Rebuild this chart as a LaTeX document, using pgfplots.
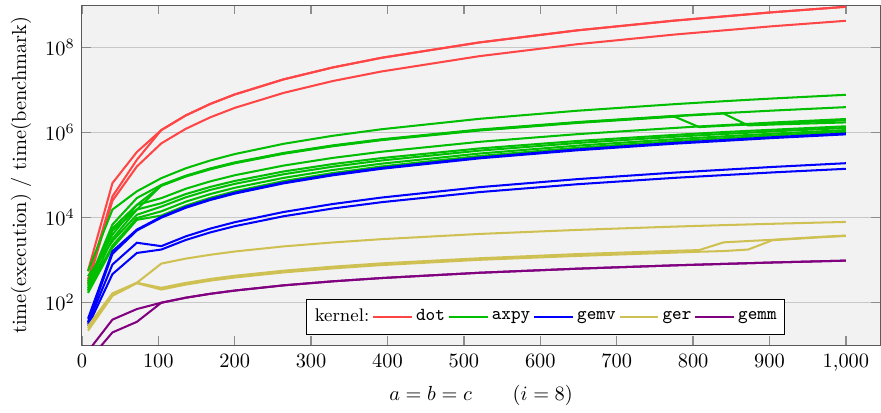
\documentclass[border=0pt]{standalone}
\usepackage{pgfplots}
\usepackage{pgfplotstable}
\pgfplotsset{compat=1.18}

\definecolor{dotc}{HTML}{FF4545}
\definecolor{axpyc}{HTML}{00BE00}
\definecolor{gemvc}{HTML}{0000FF}
\definecolor{gerc}{HTML}{CFC052}
\definecolor{gemmc}{HTML}{800080}
\definecolor{bgc}{HTML}{F2F2F2}
\definecolor{gridc}{HTML}{C8C8C8}
\definecolor{framec}{HTML}{5A5A5A}
\definecolor{tickc}{HTML}{8C8C8C}

% time(execution)/time(benchmark), one column per run
\pgfplotstableread{
x     r1      r1b     r2
8     560     350     280
40    6.5e4   3.16e4  2.5e4
72    3.5e5   2.3e5   1.6e5
104   1.15e6  1.15e6  5.6e5
136   2.54e6  2.54e6  1.23e6
168   4.73e6  4.73e6  2.29e6
200   7.9e6   7.9e6   3.82e6
264   1.79e7  1.79e7  8.6e6
328   3.40e7  3.40e7  1.63e7
392   5.75e7  5.75e7  2.74e7
520   1.32e8  1.32e8  6.28e7
648   2.54e8  2.54e8  1.20e8
776   4.32e8  4.32e8  2.03e8
904   6.78e8  6.78e8  3.18e8
1000  9.12e8  9.12e8  4.27e8
}\dotdata

\pgfplotstableread{
x     g1      g2      g3      g4      g5      g6      g7      g8      g9
8     550     280     250     220     320     200     420     190     170
40    1.55e4  6.9e3   5.6e3   5.0e3   4.0e3   3.2e3   2.8e3   2.2e3   1.95e3
72    4.17e4  2.9e4   2.0e4   1.55e4  2.0e4   1.55e4  1.17e4  9.8e3   8.9e3
104   8.51e4  5.9e4   5.6e4   5.75e4  2.88e4  2.19e4  1.82e4  1.41e4  1.12e4
136   1.45e5  9.70e4  9.27e4  9.48e4  4.79e4  3.59e4  3.01e4  2.38e4  1.92e4
168   2.21e5  1.44e5  1.37e5  1.41e5  7.14e4  5.29e4  4.49e4  3.59e4  2.93e4
200   3.13e5  1.99e5  1.90e5  1.95e5  9.94e4  7.29e4  6.23e4  5.04e4  4.16e4
264   5.46e5  3.33e5  3.18e5  3.26e5  1.68e5  1.22e5  1.05e5  8.63e4  7.26e4
328   8.41e5  5.00e5  4.78e5  4.89e5  2.54e5  1.82e5  1.58e5  1.32e5  1.12e5
392   1.20e6  6.97e5  6.65e5  6.81e5  3.55e5  2.52e5  2.21e5  1.86e5  1.60e5
520   2.11e6  1.18e6  1.12e6  1.15e6  6.07e5  4.24e5  3.77e5  3.22e5  2.82e5
648   3.27e6  1.77e6  1.69e6  1.73e6  9.19e5  6.35e5  5.69e5  4.94e5  4.39e5
776   4.68e6  2.48e6  2.37e6  2.43e6  1.29e6  8.85e5  8.00e5  7.01e5  6.30e5
808   5.07e6  2.68e6  1.35e6  2.62e6  1.40e6  9.55e5  8.63e5  7.59e5  6.82e5
840   5.48e6  2.88e6  1.45e6  2.81e6  1.50e6  1.03e6  9.29e5  8.18e5  7.38e5
872   5.91e6  3.08e6  1.55e6  1.48e6  1.61e6  1.10e6  9.95e5  8.79e5  7.96e5
904   6.35e6  3.30e6  1.66e6  1.55e6  1.73e6  1.17e6  1.07e6  9.44e5  8.55e5
1000  7.76e6  3.98e6  1.95e6  1.74e6  2.09e6  1.41e6  1.29e6  1.15e6  1.05e6
}\axpydata

\pgfplotstableread{
x     b1      b2      b3      b4
8     42      35      32      28
40    1.62e3  1.41e3  7.9e2   4.7e2
72    5.25e3  5.0e3   2.57e3  1.48e3
104   1.05e4  1.0e4   2.14e3  1.78e3
136   1.79e4  1.71e4  3.64e3  2.99e3
168   2.72e4  2.60e4  5.53e3  4.50e3
200   3.86e4  3.68e4  7.82e3  6.30e3
264   6.71e4  6.41e4  1.36e4  1.08e4
328   1.04e5  9.89e4  2.09e4  1.64e4
392   1.48e5  1.41e5  2.97e4  2.31e4
520   2.59e5  2.48e5  5.21e4  3.99e4
648   4.02e5  3.84e5  8.05e4  6.11e4
776   5.75e5  5.50e5  1.15e5  8.65e4
904   7.81e5  7.46e5  1.56e5  1.16e5
1000  9.55e5  9.12e5  1.91e5  1.41e5
}\gemvdata

\pgfplotstableread{
x     y1      y2      y3
8     28      25      22
40    166     151     145
72    295     295     288
104   832     224     204
136   1.09e3  292     267
168   1.34e3  361     330
200   1.60e3  430     392
264   2.11e3  566     516
328   2.61e3  703     641
392   3.12e3  841     767
520   4.14e3  1.11e3  1.02e3
648   5.15e3  1.39e3  1.26e3
776   6.17e3  1.66e3  1.51e3
808   6.42e3  1.73e3  1.58e3
840   6.68e3  2.63e3  1.64e3
872   6.93e3  2.82e3  1.78e3
904   7.18e3  3.02e3  2.95e3
968   7.69e3  3.55e3  3.47e3
1000  7.94e3  3.80e3  3.72e3
}\gerdata

\pgfplotstableread{
x     p1      p2
8     7.2     4.2
40    40      20
72    71      35.5
104   100     100
136   131     131
168   162     162
200   193     193
264   256     256
328   318     318
392   380     380
520   506     506
648   631     631
776   757     757
904   883     883
1000  977     977
}\gemmdata

\begin{document}
\begin{tikzpicture}
\begin{axis}[
    scale only axis,
    width=392pt, height=167pt,
    xmin=0, xmax=1045,
    ymode=log, ymin=10, ymax=1e9,
    xtick={0,100,...,1000},
    ytick={1e2,1e4,1e6,1e8},
    yminorticks=false,
    ymajorgrids,
    grid style={gridc, line width=0.7pt},
    axis background/.style={fill=bgc},
    axis line style={framec},
    tick style={tickc, line width=0.7pt},
    major tick length=4.5pt,
    xticklabel style={yshift=-1pt},
    xlabel={$a = b = c \qquad (i = 8)$},
    ylabel={time(execution) / time(benchmark)},
    no markers,
    every axis plot/.append style={line width=1pt},
    legend columns=-1,
    legend image code/.code={\draw[#1] (0pt,0pt) -- (19pt,0pt);},
    legend style={at={(0.881,0.032)}, anchor=south east, draw=black,
        fill=white, font=\small, inner xsep=2.5pt, inner ysep=3pt,
        nodes={inner sep=1.5pt}},
]
\addlegendimage{empty legend}
\addlegendentry{kernel:}

\addplot[dotc] table[x=x, y=r1] {\dotdata};
\addlegendentry{\texttt{dot}}
\addplot[dotc, forget plot] table[x=x, y=r1b] {\dotdata};
\addplot[dotc, forget plot] table[x=x, y=r2] {\dotdata};

\addplot[axpyc] table[x=x, y=g1] {\axpydata};
\addlegendentry{\texttt{axpy}}
\addplot[axpyc, forget plot] table[x=x, y=g2] {\axpydata};
\addplot[axpyc, forget plot] table[x=x, y=g3] {\axpydata};
\addplot[axpyc, forget plot] table[x=x, y=g4] {\axpydata};
\addplot[axpyc, forget plot] table[x=x, y=g5] {\axpydata};
\addplot[axpyc, forget plot] table[x=x, y=g6] {\axpydata};
\addplot[axpyc, forget plot] table[x=x, y=g7] {\axpydata};
\addplot[axpyc, forget plot] table[x=x, y=g8] {\axpydata};
\addplot[axpyc, forget plot] table[x=x, y=g9] {\axpydata};

\addplot[gemvc] table[x=x, y=b1] {\gemvdata};
\addlegendentry{\texttt{gemv}}
\addplot[gemvc, forget plot] table[x=x, y=b2] {\gemvdata};
\addplot[gemvc, forget plot] table[x=x, y=b3] {\gemvdata};
\addplot[gemvc, forget plot] table[x=x, y=b4] {\gemvdata};

\addplot[gerc] table[x=x, y=y1] {\gerdata};
\addlegendentry{\texttt{ger}}
\addplot[gerc, forget plot] table[x=x, y=y2] {\gerdata};
\addplot[gerc, forget plot] table[x=x, y=y3] {\gerdata};

\addplot[gemmc] table[x=x, y=p1] {\gemmdata};
\addlegendentry{\texttt{gemm}}
\addplot[gemmc, forget plot] table[x=x, y=p2] {\gemmdata};
\end{axis}
% margins as in the reference
\path ([yshift=2.5pt]current axis.north) ([yshift=-28.9pt]current axis.south)
      ([xshift=-40.2pt]current axis.west);
\end{tikzpicture}
\end{document}
